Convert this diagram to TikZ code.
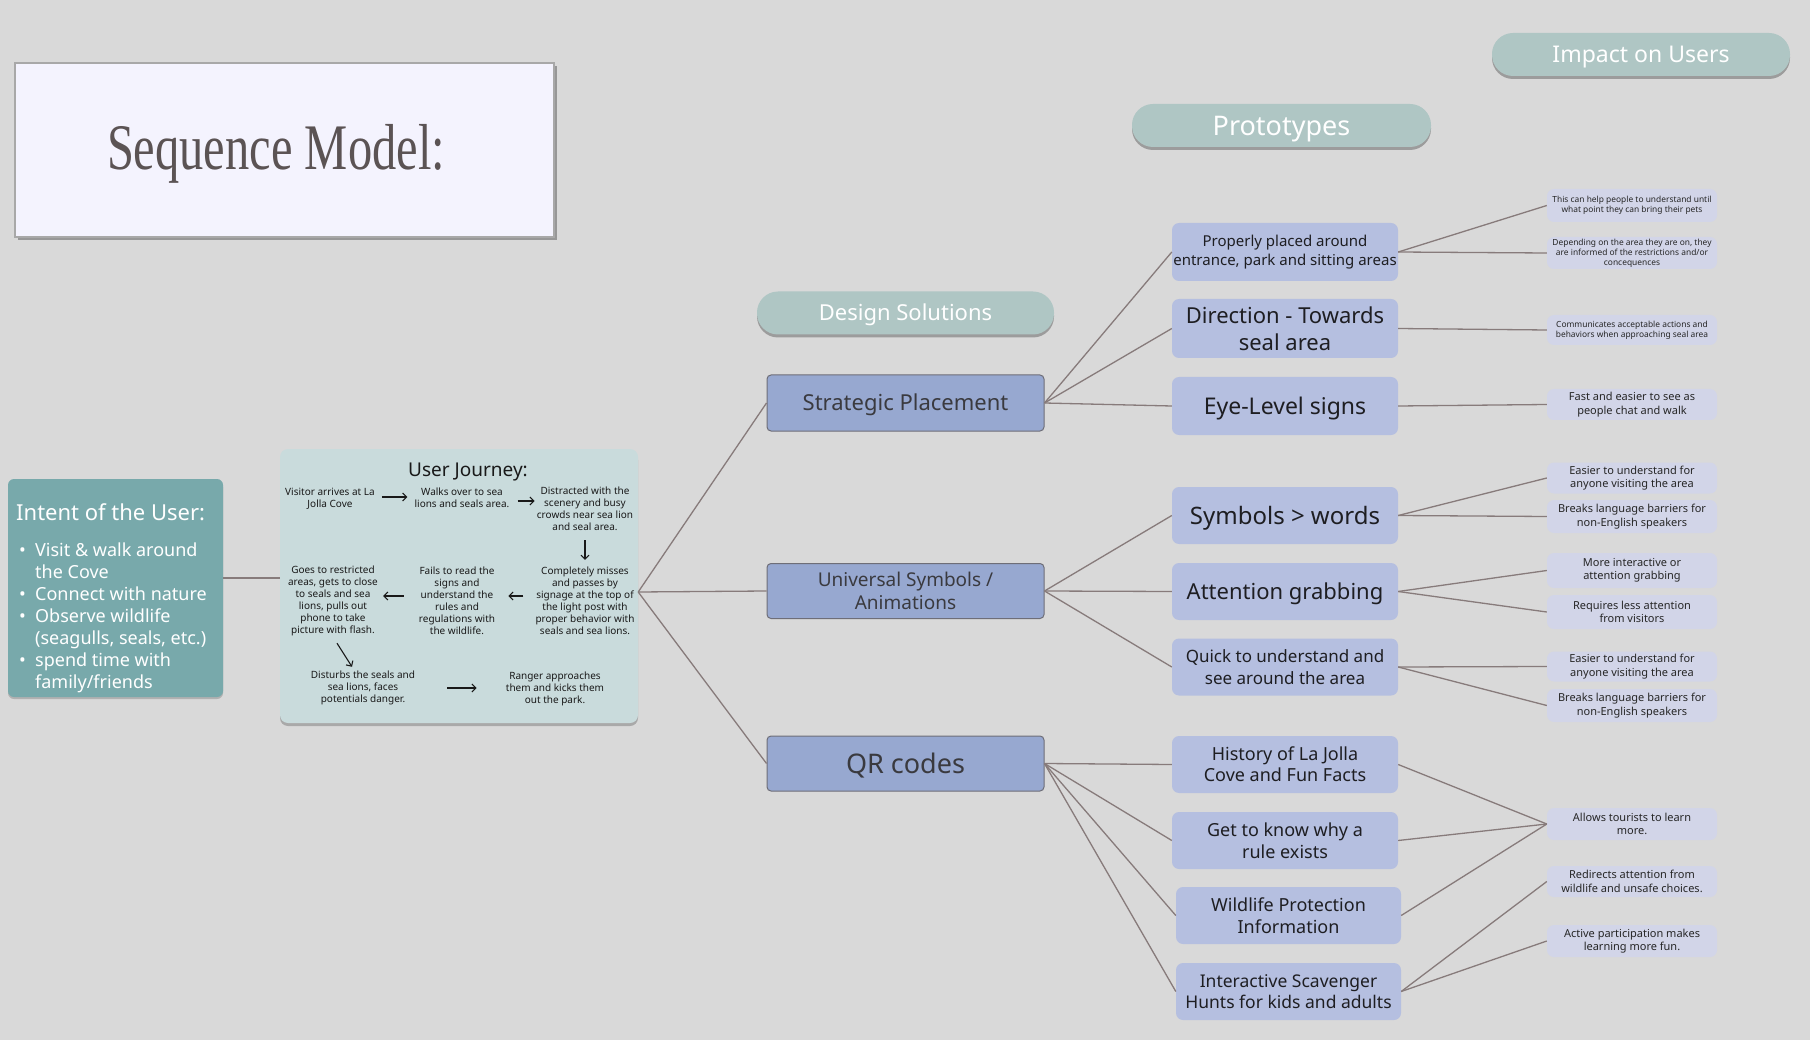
\documentclass[tikz,border=0pt]{standalone}
\usepackage{fontspec}
\usepackage{graphicx}
\setmainfont{Noto Sans}
\newfontfamily\titleserif{Liberation Serif}
\usetikzlibrary{arrows.meta,shadows}
\definecolor{bgc}{HTML}{D9D9D9}
\definecolor{titlefill}{HTML}{F4F3FE}
\definecolor{titleborder}{HTML}{A8A8A8}
\definecolor{titletext}{HTML}{5B5354}
\definecolor{intentc}{HTML}{78A9AB}
\definecolor{journeyc}{HTML}{C9DBDC}
\definecolor{pillc}{HTML}{AFC6C4}
\definecolor{designc}{HTML}{97A8D0}
\definecolor{designborder}{HTML}{6E6E78}
\definecolor{designtext}{HTML}{3A3A3F}
\definecolor{protoc}{HTML}{B5BFE0}
\definecolor{prototext}{HTML}{1E1E22}
\definecolor{impc}{HTML}{D2D5E8}
\definecolor{linkc}{HTML}{877B7B}
\newcommand\fsz[2]{\fontsize{#1}{#2}\selectfont}
\begin{document}
\begin{tikzpicture}[x=1pt,y=-1pt,
  capcenter/.style={text height=#1, text depth=0pt},
  pill/.style={rounded corners=21pt, fill=pillc, text=white, minimum height=43pt,
    inner sep=0pt, drop shadow={shadow xshift=0pt, shadow yshift=-3pt, fill=black, opacity=0.28}},
  design/.style={draw=designborder, line width=1pt, fill=designc, rounded corners=4pt,
    minimum width=277pt, minimum height=56pt, inner sep=0pt, text=designtext, align=center},
  proto/.style={fill=protoc, rounded corners=7pt, minimum width=226pt, minimum height=58pt,
    inner sep=0pt, align=center, text=prototext},
  impact/.style={fill=impc, rounded corners=7pt, minimum width=170pt, inner sep=0pt,
    align=center, text=black!85, font=\fsz{11}{13.4}},
  tiny/.style={font=\fsz{8.4}{10}},
  link/.style={draw=linkc, line width=1.3pt},
  jtext/.style={inner sep=0pt, align=center, text=black!90, font=\fsz{10}{12}},
  jarrow/.style={draw=black!90, line width=1.1pt, -{Straight Barb[length=4pt,width=8pt]}},
]
\useasboundingbox (0,0) rectangle (1810,1040);
\fill[bgc] (0,0) rectangle (1810,1040);

% Title
\node[fill=titlefill, draw=titleborder, line width=2pt, minimum width=539pt, minimum height=174pt,
  inner sep=0pt, drop shadow={shadow xshift=3pt, shadow yshift=-3pt, fill=black, opacity=0.3}]
  (titlebox) at (284.5,150) {};
\node[anchor=base, inner sep=0pt, text=titletext] (titletxt) at (276,170)
  {\titleserif\fsz{65}{70}\scalebox{0.746}[1]{Sequence Model:}};

% Intent of the user
\node[fill=intentc, rounded corners=6pt, minimum width=215pt, minimum height=218pt, inner sep=0pt,
  drop shadow={shadow xshift=0pt, shadow yshift=-2pt, fill=black, opacity=0.18}]
  (intent) at (115.5,588) {};
\node[anchor=base west, inner sep=0pt, text=white, font=\fsz{22}{26}] (intenttitle) at (16,520)
  {Intent of the User:};
\node[anchor=base west, inner sep=0pt, text=white, font=\fsz{18}{22}] (intentlist) at (18,556)
  {\begin{tabular}[t]{@{}l@{}l@{}}
  \makebox[17pt][l]{\hspace{1pt}•} & Visit \& walk around\\
  & the Cove\\
  \makebox[17pt][l]{\hspace{1pt}•} & Connect with nature\\
  \makebox[17pt][l]{\hspace{1pt}•} & Observe wildlife\\
  & (seagulls, seals, etc.)\\
  \makebox[17pt][l]{\hspace{1pt}•} & spend time with\\
  & family/friends
  \end{tabular}};

% User journey
\node[fill=journeyc, rounded corners=8pt, minimum width=358pt, minimum height=274pt, inner sep=0pt,
  drop shadow={shadow xshift=0pt, shadow yshift=-3pt, fill=black, opacity=0.22}]
  (journey) at (459,586) {};
\node[anchor=base, inner sep=0pt, text=black!90, font=\fsz{19}{22}] (jtitle) at (468,476) {User Journey:};
\node[jtext] (j1) at (330,499) {Visitor arrives at La\\Jolla Cove};
\node[jtext] (j2) at (462,498) {Walks over to sea\\lions and seals area.};
\node[jtext] (j3) at (585,509) {Distracted with the\\scenery and busy\\crowds near sea lion\\and seal area.};
\node[jtext] (j4) at (585,601) {Completely misses\\and passes by\\signage at the top of\\the light post with\\proper behavior with\\seals and sea lions.};
\node[jtext] (j5) at (457,601) {Fails to read the\\signs and\\understand the\\rules and\\regulations with\\the wildlife.};
\node[jtext] (j6) at (333,601) {Goes to restricted\\areas, gets to close\\to seals and sea\\lions, pulls out\\phone to take\\picture with flash.};
\node[jtext] (j7) at (363,688) {Disturbs the seals and\\sea lions, faces\\potentials danger.};
\node[jtext] (j8) at (555,689) {Ranger approaches\\them and kicks them\\out the park.};
\draw[jarrow, shorten <=7pt, shorten >=7pt] ([yshift=2pt]j1.east) -- ([yshift=2pt]j1.east -| j2.west);
\draw[jarrow, shorten <=8pt, shorten >=2pt] ([yshift=-3pt]j2.east) -- ([yshift=-3pt]j2.east -| j3.west);
\draw[jarrow, shorten <=9pt, shorten >=7pt] (j3.south) -- (j3.south |- j4.north);
\draw[jarrow, shorten <=12pt, shorten >=13pt] ([yshift=5pt]j4.west) -- ([yshift=5pt]j4.west -| j5.east);
\draw[jarrow, shorten <=15pt, shorten >=5pt] ([yshift=5pt]j5.west) -- ([yshift=5pt]j5.west -| j6.east);
\draw[jarrow] ([xshift=4pt,yshift=-7pt]j6.south) -- ([xshift=-11pt,yshift=4pt]j7.north);
\draw[jarrow, shorten <=32pt, shorten >=29pt] (j7.east) -- (j7.east -| j8.west);

\draw[link] ([yshift=10pt]intent.east) -- ([yshift=10pt]intent.east -| journey.west);

% Headers
\node[pill, capcenter=15.7pt, minimum width=297pt, font=\fsz{22}{26}] (dshead) at (905.5,313) {Design Solutions};
\node[pill, capcenter=19.3pt, minimum width=299pt, font=\fsz{27}{30}] (prhead) at (1281.5,125.5) {Prototypes};
\node[pill, capcenter=16.4pt, minimum width=298pt, font=\fsz{23}{27}] (imhead) at (1641,54.5) {Impact on Users};

% Design solutions
\node[design, capcenter=15.7pt, font=\fsz{22}{26}] (strat) at (905.5,403) {Strategic Placement};
\node[design, minimum height=55pt, font=\fsz{19}{22.5}] (univ) at (905.5,591) {Universal Symbols /\\Animations};
\node[design, capcenter=19.3pt, minimum height=55pt, font=\fsz{27}{30}] (qr) at (905.5,763.5) {QR codes};

% Prototypes
\node[proto, font=\fsz{15}{18.5}] (p1) at (1285,252) {Properly placed around\\entrance, park and sitting areas};
\node[proto, minimum height=59pt, font=\fsz{22}{27}] (p2) at (1285,328.5) {Direction - Towards\\seal area};
\node[proto, capcenter=16.4pt, font=\fsz{23}{27}] (p3) at (1285,406) {Eye-Level signs};
\node[proto, capcenter=17.1pt, minimum height=57pt, font=\fsz{24}{28}] (p4) at (1285,515.5) {Symbols > words};
\node[proto, capcenter=15.7pt, minimum height=57pt, font=\fsz{22}{26}] (p5) at (1285,591.5) {Attention grabbing};
\node[proto, minimum height=57pt, font=\fsz{17}{21.5}] (p6) at (1285,667) {Quick to understand and\\see around the area};
\node[proto, minimum height=57pt, font=\fsz{18}{21}] (p7) at (1285,764.5) {History of La Jolla\\Cove and Fun Facts};
\node[proto, minimum height=57pt, font=\fsz{18}{22}] (p8) at (1285,840.5) {Get to know why a\\rule exists};
\node[proto, minimum width=225pt, minimum height=57pt, font=\fsz{18}{22}] (p9) at (1288.5,915.5) {Wildlife Protection\\Information};
\node[proto, minimum width=225pt, minimum height=57pt, font=\fsz{17.5}{21}] (p10) at (1288.5,991.5) {Interactive Scavenger\\Hunts for kids and adults};

% Impacts
\node[impact, tiny, minimum height=33pt] (i1) at (1632,205.5) {This can help people to understand until\\what point they can bring their pets};
\node[impact, tiny, minimum height=32pt] (i2) at (1632,253) {Depending on the area they are on, they\\are informed of the restrictions and/or\\concequences};
\node[impact, tiny, minimum height=30pt] (i3) at (1632,330) {Communicates acceptable actions and\\behaviors when approaching seal area};
\node[impact, minimum height=31pt] (i4) at (1632,404.5) {Fast and easier to see as\\people chat and walk};
\node[impact, minimum height=31pt] (i5) at (1632,478) {Easier to understand for\\anyone visiting the area};
\node[impact, minimum height=33pt] (i6) at (1632,516.5) {Breaks language barriers for\\non-English speakers};
\node[impact, minimum height=35pt] (i7) at (1632,570.5) {More interactive or\\attention grabbing};
\node[impact, minimum height=34pt] (i8) at (1632,612) {Requires less attention\\from visitors};
\node[impact, minimum height=30pt] (i9) at (1632,666.5) {Easier to understand for\\anyone visiting the area};
\node[impact, minimum height=33pt] (i10) at (1632,705.5) {Breaks language barriers for\\non-English speakers};
\node[impact, minimum height=32pt] (i11) at (1632,824) {Allows tourists to learn\\more.};
\node[impact, minimum height=31pt] (i12) at (1632,881.5) {Redirects attention from\\wildlife and unsafe choices.};
\node[impact, minimum height=32pt] (i13) at (1632,941) {Active participation makes\\learning more fun.};

% Connectors
\coordinate (jout) at ([yshift=-6pt]journey.east);
\draw[link] (jout) -- (strat.west);
\draw[link] (jout) -- (univ.west);
\draw[link] (jout) -- (qr.west);
\draw[link] (strat.east) -- (p1.west);
\draw[link] (strat.east) -- (p2.west);
\draw[link] (strat.east) -- (p3.west);
\draw[link] (univ.east) -- (p4.west);
\draw[link] (univ.east) -- (p5.west);
\draw[link] (univ.east) -- (p6.west);
\draw[link] (qr.east) -- (p7.west);
\draw[link] (qr.east) -- (p8.west);
\draw[link] (qr.east) -- (p9.west);
\draw[link] (qr.east) -- (p10.west);
\draw[link] (p1.east) -- (i1.west);
\draw[link] (p1.east) -- (i2.west);
\draw[link] (p2.east) -- (i3.west);
\draw[link] (p3.east) -- (i4.west);
\draw[link] (p4.east) -- (i5.west);
\draw[link] (p4.east) -- (i6.west);
\draw[link] (p5.east) -- (i7.west);
\draw[link] (p5.east) -- (i8.west);
\draw[link] (p6.east) -- (i9.west);
\draw[link] (p6.east) -- (i10.west);
\draw[link] (p7.east) -- (i11.west);
\draw[link] (p8.east) -- (i11.west);
\draw[link] (p9.east) -- (i11.west);
\draw[link] (p10.east) -- (i12.west);
\draw[link] (p10.east) -- (i13.west);
\end{tikzpicture}
\end{document}
